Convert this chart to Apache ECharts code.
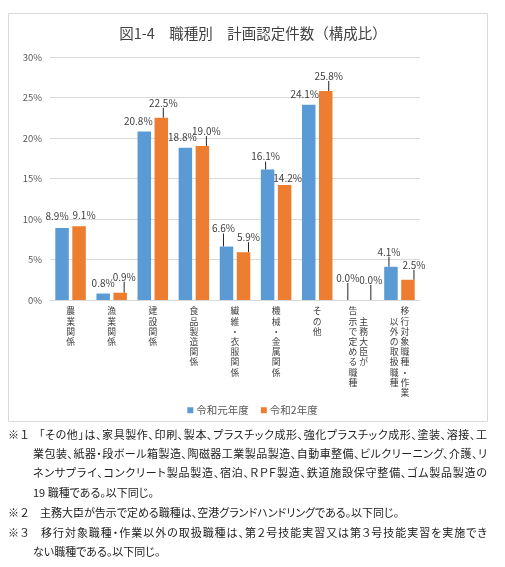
<!DOCTYPE html>
<html>
<head>
<meta charset="utf-8">
<script src="https://cdn.jsdelivr.net/npm/echarts@6/dist/echarts.min.js"></script>
<style>
  body { margin: 0; background: #fff; }
  #main { position: absolute; left: 0; top: 0; width: 505px; height: 567px; }
  .note {
    position: absolute; white-space: nowrap; font-size: 11px; line-height: 20px; height: 20px;
    font-family: "Noto Sans CJK JP", sans-serif; color: #222;
    font-feature-settings: "palt";
  }
  .mark { position: absolute; font-size: 11px; line-height: 20px; font-family: "Noto Sans CJK JP", sans-serif; color: #222; }
</style>
</head>
<body>
<div id="main"></div>
<div id="notes"></div>
<script>
// 職種（縦書き、右の列から）
const categoryColumns = [
    ['農業関係'],
    ['漁業関係'],
    ['建設関係'],
    ['食品製造関係'],
    ['繊維・衣服関係'],
    ['機械・金属関係'],
    ['その他'],
    ['主務大臣が', '告示で定める職種'],
    ['移行対象職種・作業', '以外の取扱職種']
];
const seriesNames = ['令和元年度', '令和2年度'];
const valuesR1 = [8.9, 0.8, 20.8, 18.8, 6.6, 16.1, 24.1, 0.0, 4.1];
const valuesR2 = [9.1, 0.9, 22.5, 19.0, 5.9, 14.2, 25.8, 0.0, 2.5];
const yTicks = [0, 5, 10, 15, 20, 25, 30];

// ラベルの位置ずれ（Excel の手動配置を真似る）と引き出し線の有無
const labelShift = [
    [[-5, -4], [0, -2], [-6, -2], [-3, -3], [-3, -10], [-2, -5], [-4, -3], [-2, -14], [-2, -7]],
    [[5, -3], [4, -8], [2, -7], [4, -7], [5, -7], [3, 1], [3, -7], [4, -12], [6, -7]]
];
const leaderLine = [
    [false, false, false, false, true, true, false, true, true],
    [false, true, true, true, true, false, true, true, true]
];

const notes = [
    { mark: '※１', x: 39, y: 434, w: 448, text: '「その他」は、家具製作、印刷、製本、プラスチック成形、強化プラスチック成形、塗装、溶接、工' },
    { x: 33, y: 453, w: 454, text: '業包装、紙器・段ボール箱製造、陶磁器工業製品製造、自動車整備、ビルクリーニング、介護、リ' },
    { x: 33, y: 472, w: 454, text: 'ネンサプライ、コンクリート製品製造、宿泊、ＲＰＦ製造、鉄道施設保守整備、ゴム製品製造の' },
    { x: 33, y: 492, text: '19 職種である。以下同じ。' },
    { mark: '※２', x: 40, y: 512, text: '主務大臣が告示で定める職種は、空港グランドハンドリングである。以下同じ。' },
    { mark: '※３', x: 41, y: 532, w: 446, text: '移行対象職種・作業以外の取扱職種は、第２号技能実習又は第３号技能実習を実施でき' },
    { x: 33, y: 551, text: 'ない職種である。以下同じ。' }
];

// 縦書きラベルを1行1文字（2列なら「左 右」）に組む
function verticalLabel(cols) {
    const n = Math.max.apply(null, cols.map(c => c.length));
    const chars = cols.map(c => {
        const pad = Math.floor((n - c.length) / 2);
        return Array.from({ length: n }, (_, i) => c[i - pad] || '\u3000');
    });
    const rows = [];
    for (let i = 0; i < n; i++) {
        rows.push(chars.length === 1 ? chars[0][i] : chars[1][i] + ' ' + chars[0][i]);
    }
    return rows.join('\n');
}
const categories = categoryColumns.map(verticalLabel);

function makeData(values, s) {
    return values.map((v, i) => ({ value: v, labelLine: { show: leaderLine[s][i] } }));
}

const myChart = echarts.init(document.getElementById('main'));
const font = '"Noto Sans CJK JP", "Noto Sans", sans-serif';
const barColors = ['#5B9BD5', '#ED7D31'];

function barSeries(s, values) {
    return {
        name: seriesNames[s],
        type: 'bar',
        data: makeData(values, s),
        barWidth: 13.5,
        barGap: '26%',
        itemStyle: { color: barColors[s] },
        label: {
            show: true,
            position: 'top',
            distance: 3,
            fontSize: 10,
            color: '#404040',
            fontFamily: font,
            formatter: p => p.value.toFixed(1) + '%'
        },
        labelLine: { show: false, lineStyle: { color: '#262626', width: 1 } },
        labelLayout: p => ({ dx: labelShift[s][p.dataIndex][0], dy: labelShift[s][p.dataIndex][1] })
    };
}

const option = {
    animation: false,
    backgroundColor: '#fff',
    textStyle: { fontFamily: font },
    title: {
        text: '図1-4　職種別　計画認定件数（構成比）',
        left: 248,
        top: 21,
        textAlign: 'center',
        textStyle: { fontSize: 14.5, fontWeight: 'normal', color: '#404040', fontFamily: font }
    },
    legend: {
        data: seriesNames,
        top: 400,
        left: 'center',
        icon: 'rect',
        itemWidth: 6,
        itemHeight: 6,
        itemGap: 12,
        textStyle: { fontSize: 10.5, color: '#595959', fontFamily: font, padding: [0, 0, 0, -2] }
    },
    graphic: [{
        type: 'rect',
        shape: { x: 8.5, y: 13.5, width: 479, height: 408 },
        style: { fill: 'none', stroke: '#d9d9d9', lineWidth: 1 },
        z: -1
    }],
    grid: { left: 50, right: 85, top: 57, bottom: 267 },
    xAxis: {
        type: 'category',
        data: categories,
        axisTick: { show: false },
        axisLine: { lineStyle: { color: '#d9d9d9' } },
        axisLabel: {
            interval: 0,
            fontSize: 8.8,
            lineHeight: 10.2,
            margin: 6,
            color: '#404040',
            fontFamily: font,
            verticalAlign: 'top'
        }
    },
    yAxis: {
        type: 'value',
        min: yTicks[0],
        max: yTicks[yTicks.length - 1],
        interval: yTicks[1] - yTicks[0],
        axisLabel: { formatter: '{value}%', fontSize: 9.5, color: '#595959', margin: 8, fontFamily: font },
        splitLine: { lineStyle: { color: '#d9d9d9' } },
        axisLine: { show: false },
        axisTick: { show: false }
    },
    series: [barSeries(0, valuesR1), barSeries(1, valuesR2)]
};
myChart.setOption(option);

// 注記
const box = document.getElementById('notes');
notes.forEach(n => {
    if (n.mark) {
        const m = document.createElement('div');
        m.className = 'mark';
        m.style.left = '8px';
        m.style.top = (n.y - 10) + 'px';
        m.textContent = n.mark;
        box.appendChild(m);
    }
    const d = document.createElement('div');
    d.className = 'note';
    d.style.left = n.x + 'px';
    d.style.top = (n.y - 10) + 'px';
    d.textContent = n.text;
    box.appendChild(d);
    if (n.w) {
        const w = d.getBoundingClientRect().width;
        const count = Array.from(n.text).length;
        d.style.letterSpacing = ((n.w - w) / (count - 1)) + 'px';
    }
});
</script>
</body>
</html>
